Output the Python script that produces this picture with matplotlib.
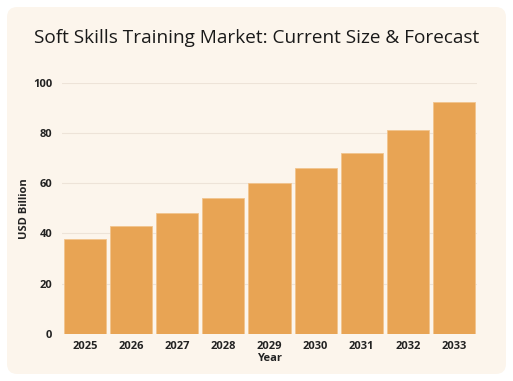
import matplotlib
matplotlib.use("Agg")
import matplotlib.pyplot as plt
from matplotlib.patches import FancyBboxPatch

years = ["2025", "2026", "2027", "2028", "2029", "2030", "2031", "2032", "2033"]
values = [38, 43, 48, 54, 60, 66, 72, 81, 92.5]
yticks = [0, 20, 40, 60, 80, 100]

plt.rcParams['font.family'] = ['Open Sans', 'DejaVu Sans']

W, H = 513, 381
fig = plt.figure(figsize=(W/100, H/100), dpi=100)
fig.patch.set_facecolor('white')

card = FancyBboxPatch((7/W, 7/H), (506-7)/W, (374-7)/H,
                      boxstyle="round,pad=0,rounding_size=0.02",
                      transform=fig.transFigure, facecolor='#FCF5EC',
                      edgecolor='none', zorder=-10,
                      mutation_aspect=W/H)
fig.patches.append(card)

ax = fig.add_axes([62/W, (H-334)/H, (477-62)/W, (334-82.7)/H])
ax.set_zorder(1)
ax.set_facecolor('none')
x = range(len(years))
ax.bar(x, values, width=0.915, color='#E8A454', edgecolor='#F2C48E', linewidth=0.6, zorder=3)
ax.set_xlim(-0.5, len(years) - 0.5)
ax.set_ylim(0, 100)
ax.set_yticks(yticks)
ax.set_xticks(list(x))
ax.set_xticklabels(years)
ax.grid(axis='y', color='#EDE3D8', linewidth=0.8, zorder=0)
for s in ax.spines.values():
    s.set_visible(False)
ax.tick_params(length=0, labelsize=8, colors='#222222')
ax.tick_params(axis='x', pad=5)
ax.tick_params(axis='y', pad=7)
for lab in ax.get_xticklabels() + ax.get_yticklabels():
    lab.set_fontweight('bold')
ax.set_xlabel("Year", fontsize=8, fontweight='bold', color='#222222', labelpad=1)
ax.set_ylabel("USD Billion", fontsize=8, fontweight='bold', color='#222222', labelpad=2)

fig.text(0.5, (H-38)/H, "Soft Skills Training Market: Current Size & Forecast",
         ha='center', va='center', fontsize=13.7, color='#1a1a1a', fontweight='medium')

fig.savefig("out.png", dpi=100, facecolor=fig.get_facecolor())
